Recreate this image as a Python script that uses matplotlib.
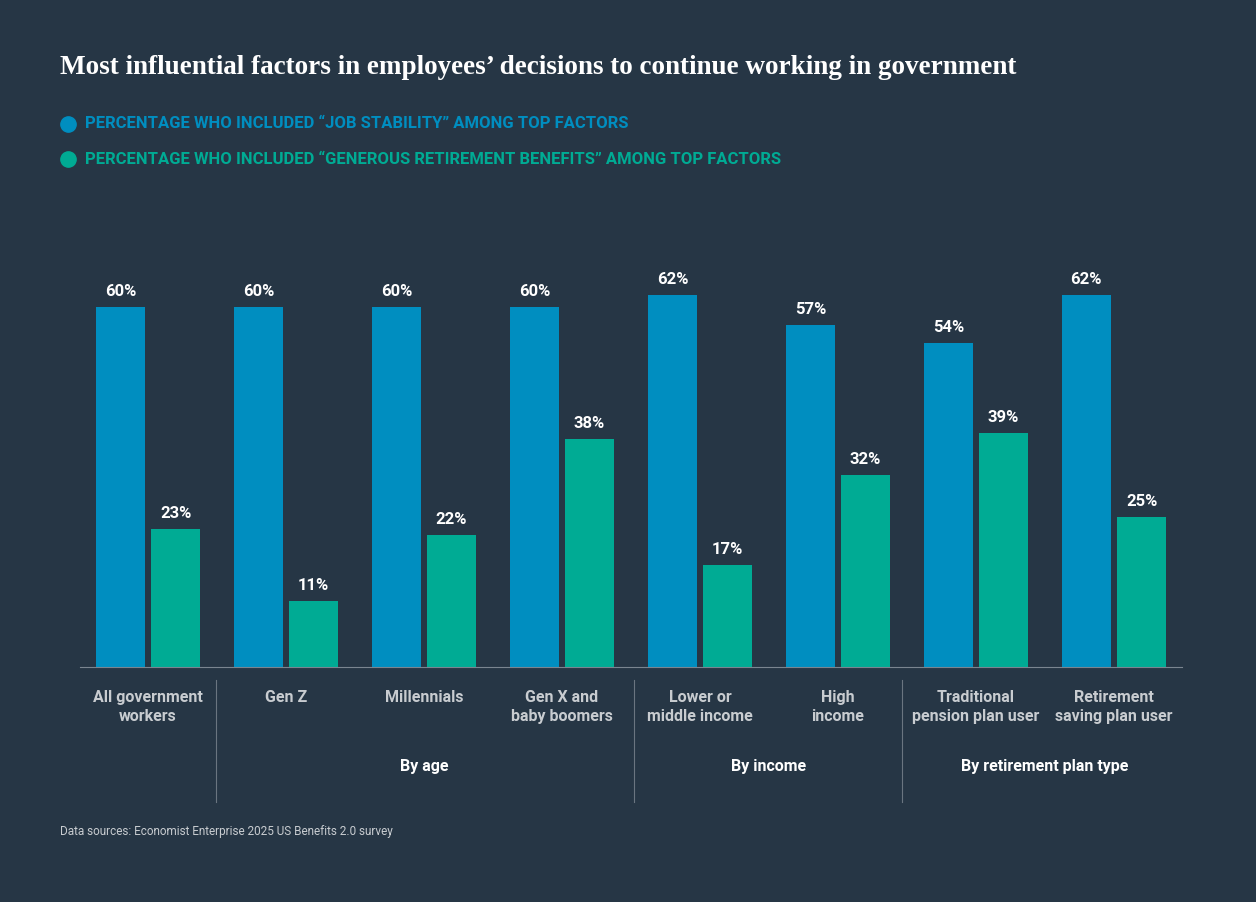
import matplotlib.pyplot as plt

categories = ["All government\nworkers", "Gen Z", "Millennials", "Gen X and\nbaby boomers",
              "Lower or\nmiddle income", "High\nincome", "Traditional\npension plan user",
              "Retirement\nsaving plan user"]
job_stability = [60, 60, 60, 60, 62, 57, 54, 62]
retirement = [23, 11, 22, 38, 17, 32, 39, 25]
groups = [("By age", 1, 3), ("By income", 4, 5), ("By retirement plan type", 6, 7)]

BG = "#263645"
BLUE = "#008ec0"
GREEN = "#00ab94"
GREY = "#c8ccd0"
SANS = ["Liberation Sans Narrow", "Roboto", "DejaVu Sans"]

W, H = 1256, 902
fig = plt.figure(figsize=(W / 100, H / 100), dpi=100, facecolor=BG)

def px(x, y):
    return x / W, 1 - y / H

ax = fig.add_axes([80 / W, 1 - 667 / H, (1182 - 80) / W, 417 / H])
ax.set_facecolor(BG)
ax.set_xlim(-0.493, 7.493)
ax.set_ylim(0, 69.5)
x = list(range(len(categories)))
bw = 0.355
ax.bar([i - 0.2 for i in x], job_stability, bw, color=BLUE)
ax.bar([i + 0.2 for i in x], retirement, bw, color=GREEN)
for i in x:
    ax.text(i - 0.2, job_stability[i] + 1.3, f"{job_stability[i]}%", ha="center", va="bottom",
            color="white", fontsize=12, fontweight="bold", family=SANS)
    ax.text(i + 0.2, retirement[i] + 1.3, f"{retirement[i]}%", ha="center", va="bottom",
            color="white", fontsize=12, fontweight="bold", family=SANS)
for s in ["top", "right", "left"]:
    ax.spines[s].set_visible(False)
ax.spines["bottom"].set_color("#7a8590")
ax.set_xticks([])
ax.set_yticks([])

# category labels
for i, lab in enumerate(categories):
    fig.text(*px(148 + 138 * i, 690), lab, ha="center", va="top", color=GREY,
             fontsize=11.5, fontweight="bold", family=SANS, linespacing=1.3)
for name, a, b in groups:
    xc = 148 + 138 * (a + b) / 2
    fig.text(*px(xc, 767), name, ha="center", va="center", color="white",
             fontsize=11.5, fontweight="bold", family=SANS)
for xs in [216, 634, 902]:
    fig.add_artist(plt.Line2D([xs / W, xs / W], [1 - 680 / H, 1 - 802 / H],
                              color="#6a7580", lw=0.8))

fig.text(*px(60, 68), "Most influential factors in employees\u2019 decisions to continue working in government",
         ha="left", va="center", color="white", fontsize=19.5, fontweight="bold",
         family=["Liberation Serif", "DejaVu Serif"])
for y, col, txt in [(124, BLUE, "PERCENTAGE WHO INCLUDED \u201cJOB STABILITY\u201d AMONG TOP FACTORS"),
                    (159, GREEN, "PERCENTAGE WHO INCLUDED \u201cGENEROUS RETIREMENT BENEFITS\u201d AMONG TOP FACTORS")]:
    fig.add_artist(plt.Line2D([68 / W], [1 - y / H], marker="o", markersize=11,
                              color=col, transform=fig.transFigure))
    fig.text(*px(85, y), txt, ha="left", va="center", color=col, fontsize=12,
             fontweight="bold", family=SANS)
fig.text(*px(60, 832), "Data sources: Economist Enterprise 2025 US Benefits 2.0 survey",
         ha="left", va="center", color=GREY, fontsize=8.5, family=SANS)

fig.savefig("out.png", dpi=100, facecolor=BG)
